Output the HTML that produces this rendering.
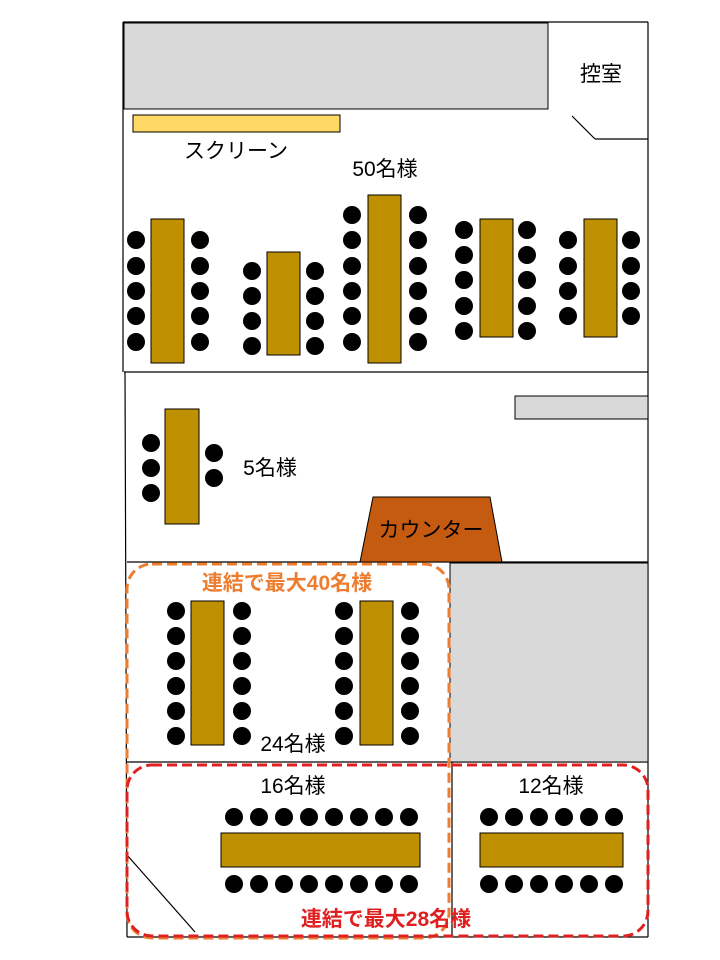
<!DOCTYPE html>
<html><head><meta charset="utf-8"><style>
body{margin:0;background:#fff}
svg{display:block}
text{font-family:"Liberation Sans","Noto Sans CJK JP",sans-serif}
</style></head><body>
<svg width="720" height="960" viewBox="0 0 720 960" xmlns="http://www.w3.org/2000/svg">
<rect width="720" height="960" fill="#fff"/>
<g stroke="#000" stroke-width="1.2" fill="none">
<line x1="123" y1="22" x2="648" y2="22"/>
<line x1="648" y1="22" x2="648" y2="937"/>
<line x1="123" y1="22" x2="123" y2="372"/>
<line x1="125" y1="372" x2="127" y2="937"/>
<line x1="124" y1="372" x2="648" y2="372"/>
<line x1="595" y1="139" x2="648" y2="139"/>
<line x1="572" y1="116" x2="595" y2="139"/>
<line x1="127" y1="562" x2="648" y2="562"/>
<line x1="450" y1="762" x2="648" y2="762"/>
<line x1="127" y1="762" x2="450" y2="762"/>
<line x1="452" y1="762" x2="452" y2="937"/>
<line x1="127" y1="855" x2="195" y2="932"/>
<line x1="127" y1="937" x2="648" y2="937"/>
</g>
<rect x="124" y="23" width="424" height="86" fill="#d9d9d9" stroke="#000"/>
<rect x="133" y="115" width="207" height="17" fill="#ffd966" stroke="#000"/>
<rect x="515" y="396" width="133" height="23" fill="#d9d9d9" stroke="#000"/>
<rect x="450" y="563" width="198" height="199" fill="#d9d9d9" stroke="#000"/>
<polygon points="373,497 490,497 502,562 360,562" fill="#c55a11" stroke="#000"/>
<g fill="#bf9000" stroke="#000">
<rect x="151" y="219" width="33" height="144"/>
<rect x="267" y="252" width="33" height="103"/>
<rect x="368" y="195" width="33" height="168"/>
<rect x="480" y="219" width="33" height="118"/>
<rect x="584" y="219" width="33" height="118"/>
<rect x="165" y="409" width="34" height="115"/>
<rect x="191" y="601" width="33" height="144"/>
<rect x="360" y="601" width="33" height="144"/>
<rect x="221" y="833" width="199" height="34"/>
<rect x="480" y="833" width="143" height="34"/>
</g>
<g fill="#000">
<circle cx="136" cy="240" r="9"/><circle cx="136" cy="266" r="9"/><circle cx="136" cy="291" r="9"/><circle cx="136" cy="316" r="9"/><circle cx="136" cy="342" r="9"/>
<circle cx="200" cy="240" r="9"/><circle cx="200" cy="266" r="9"/><circle cx="200" cy="291" r="9"/><circle cx="200" cy="316" r="9"/><circle cx="200" cy="342" r="9"/>
<circle cx="252" cy="271" r="9"/><circle cx="252" cy="296" r="9"/><circle cx="252" cy="321" r="9"/><circle cx="252" cy="346" r="9"/>
<circle cx="315" cy="271" r="9"/><circle cx="315" cy="296" r="9"/><circle cx="315" cy="321" r="9"/><circle cx="315" cy="346" r="9"/>
<circle cx="352" cy="215" r="9"/><circle cx="352" cy="240" r="9"/><circle cx="352" cy="266" r="9"/><circle cx="352" cy="291" r="9"/><circle cx="352" cy="316" r="9"/><circle cx="352" cy="342" r="9"/>
<circle cx="418" cy="215" r="9"/><circle cx="418" cy="240" r="9"/><circle cx="418" cy="266" r="9"/><circle cx="418" cy="291" r="9"/><circle cx="418" cy="316" r="9"/><circle cx="418" cy="342" r="9"/>
<circle cx="464" cy="230" r="9"/><circle cx="464" cy="255" r="9"/><circle cx="464" cy="280" r="9"/><circle cx="464" cy="306" r="9"/><circle cx="464" cy="331" r="9"/>
<circle cx="527" cy="230" r="9"/><circle cx="527" cy="255" r="9"/><circle cx="527" cy="280" r="9"/><circle cx="527" cy="306" r="9"/><circle cx="527" cy="331" r="9"/>
<circle cx="568" cy="240" r="9"/><circle cx="568" cy="266" r="9"/><circle cx="568" cy="291" r="9"/><circle cx="568" cy="316" r="9"/>
<circle cx="631" cy="240" r="9"/><circle cx="631" cy="266" r="9"/><circle cx="631" cy="291" r="9"/><circle cx="631" cy="316" r="9"/>
<circle cx="151" cy="443" r="9"/><circle cx="151" cy="468" r="9"/><circle cx="151" cy="493" r="9"/>
<circle cx="214" cy="453" r="9"/><circle cx="214" cy="478" r="9"/>
<g id="col"><circle cx="176" cy="611" r="9"/><circle cx="176" cy="636" r="9"/><circle cx="176" cy="661" r="9"/><circle cx="176" cy="686" r="9"/><circle cx="176" cy="711" r="9"/><circle cx="176" cy="736" r="9"/></g>
<use href="#col" x="66"/><use href="#col" x="168"/><use href="#col" x="234"/>
<g id="row"><circle cx="234" cy="817" r="9"/><circle cx="259" cy="817" r="9"/><circle cx="284" cy="817" r="9"/><circle cx="309" cy="817" r="9"/><circle cx="334" cy="817" r="9"/><circle cx="359" cy="817" r="9"/><circle cx="384" cy="817" r="9"/><circle cx="409" cy="817" r="9"/></g>
<use href="#row" y="67"/>
<g id="row2"><circle cx="489" cy="817" r="9"/><circle cx="514" cy="817" r="9"/><circle cx="539" cy="817" r="9"/><circle cx="564" cy="817" r="9"/><circle cx="589" cy="817" r="9"/><circle cx="614" cy="817" r="9"/></g>
<use href="#row2" y="67"/>
</g>
<rect x="127" y="564" width="322" height="374" rx="25" fill="none" stroke="#ed7d31" stroke-width="3" stroke-dasharray="10,5"/>
<rect x="127" y="765" width="521" height="171" rx="25" fill="none" stroke="#e02020" stroke-width="3" stroke-dasharray="10,5"/>
<g font-size="21" fill="#000" text-anchor="middle">
<text x="601" y="81">控室</text>
<text x="236" y="158">スクリーン</text>
<text x="385" y="176">50名様</text>
<text x="270" y="475">5名様</text>
<text x="431" y="537">カウンター</text>
<text x="293" y="751">24名様</text>
<text x="293" y="793">16名様</text>
<text x="551" y="793">12名様</text>
</g>
<g font-size="21" font-weight="bold" text-anchor="middle">
<text x="287" y="590" fill="#ed7d31">連結で最大40名様</text>
<text x="386" y="926" fill="#e02020">連結で最大28名様</text>
</g>
</svg>
</body></html>
